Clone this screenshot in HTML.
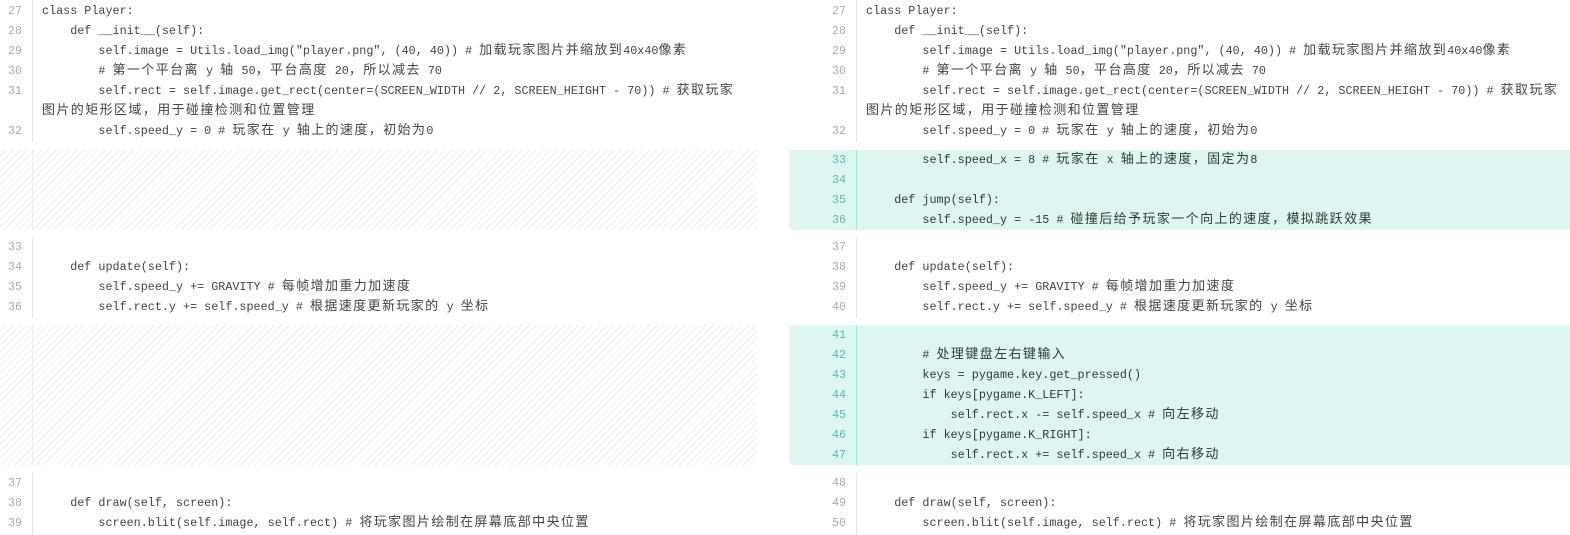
<!DOCTYPE html>
<html><head><meta charset="utf-8"><style>
html,body{margin:0;padding:0;background:#fff;width:1570px;height:535px;overflow:hidden;position:relative}
.r{position:absolute;height:20px;line-height:20px;white-space:pre;font-family:"Liberation Mono","Noto Sans CJK SC",monospace;font-size:11.75px;color:#444}
.n{position:absolute;height:20px;line-height:20px;text-align:right;width:30px;font-family:"Liberation Mono",monospace;font-size:11.67px;color:#aaa}
.g .n{color:#5fb8a2}
.g .r{color:#2d3b37}
.c{font-family:"Noto Sans CJK SC",sans-serif;font-size:13px;letter-spacing:1.4px;line-height:10px;vertical-align:0}
.gut{position:absolute;width:1px;background:#e4e4e4}
.hatch{position:absolute;left:0;width:757px;background:repeating-linear-gradient(135deg,#fff 0 4px,#ececec 4px 5px)}
.blk{position:absolute;left:789px;width:781px;background:#def6f1;border-radius:4px 0 0 4px}
.gg{position:absolute;left:856px;width:1px;background:#a9e5d5}
</style></head><body>
<div class="hatch" style="top:150px;height:80px"></div>
<div class="hatch" style="top:325px;height:140px"></div>
<div class="gut" style="left:32px;top:0;height:142px"></div>
<div class="gut" style="left:32px;top:150px;height:80px;background:#ececec"></div>
<div class="gut" style="left:32px;top:237px;height:81px"></div>
<div class="gut" style="left:32px;top:325px;height:140px;background:#ececec"></div>
<div class="gut" style="left:32px;top:473px;height:62px"></div>
<div class="gut" style="left:856px;top:0;height:142px"></div>
<div class="gut" style="left:856px;top:237px;height:81px"></div>
<div class="gut" style="left:856px;top:473px;height:62px"></div>
<div class="blk" style="top:150px;height:80px"></div>
<div class="blk" style="top:325px;height:140px"></div>
<div class="gg" style="top:150px;height:80px"></div>
<div class="gg" style="top:325px;height:140px"></div>
<div id="c"></div>
<script>
var L=[
[1,'27','class Player:'],[21,'28','    def __init__(self):'],
[41,'29','        self.image = Utils.load_img("player.png", (40, 40)) # 加载玩家图片并缩放到40x40像素'],
[61,'30','        # 第一个平台离 y 轴 50，平台高度 20，所以减去 70'],
[81,'31','        self.rect = self.image.get_rect(center=(SCREEN_WIDTH // 2, SCREEN_HEIGHT - 70)) # 获取玩家'],
[101,'','图片的矩形区域，用于碰撞检测和位置管理'],
[121,'32','        self.speed_y = 0 # 玩家在 y 轴上的速度，初始为0']];
var LB=[[237,'33',''],[257,'34','    def update(self):'],[277,'35','        self.speed_y += GRAVITY # 每帧增加重力加速度'],[297,'36','        self.rect.y += self.speed_y # 根据速度更新玩家的 y 坐标'],
[473,'37',''],[493,'38','    def draw(self, screen):'],[513,'39','        screen.blit(self.image, self.rect) # 将玩家图片绘制在屏幕底部中央位置']];
var R=[[237,'37',''],[257,'38','    def update(self):'],[277,'39','        self.speed_y += GRAVITY # 每帧增加重力加速度'],[297,'40','        self.rect.y += self.speed_y # 根据速度更新玩家的 y 坐标'],
[473,'48',''],[493,'49','    def draw(self, screen):'],[513,'50','        screen.blit(self.image, self.rect) # 将玩家图片绘制在屏幕底部中央位置']];
var G=[[150,'33','        self.speed_x = 8 # 玩家在 x 轴上的速度，固定为8'],[170,'34',''],[190,'35','    def jump(self):'],[210,'36','        self.speed_y = -15 # 碰撞后给予玩家一个向上的速度，模拟跳跃效果'],
[325,'41',''],[345,'42','        # 处理键盘左右键输入'],[365,'43','        keys = pygame.key.get_pressed()'],[385,'44','        if keys[pygame.K_LEFT]:'],[405,'45','            self.rect.x -= self.speed_x # 向左移动'],[425,'46','        if keys[pygame.K_RIGHT]:'],[445,'47','            self.rect.x += self.speed_x # 向右移动']];
function esc(s){return s.replace(/&/g,'&amp;').replace(/</g,'&lt;').replace(/([\u3000-\u9fff\uff00-\uffef]+)/g,'<span class="c">$1</span>');}
var h='';
function add(arr,nx,cx,g){arr.forEach(function(a){h+='<div'+(g?' class="g"':'')+'>';if(a[1])h+='<div class="n" style="left:'+nx+'px;top:'+a[0]+'px">'+a[1]+'</div>';h+='<div class="r" style="left:'+cx+'px;top:'+a[0]+'px">'+esc(a[2])+'</div></div>';});}
add(L,-8,42,0);add(LB,-8,42,0);
add(L,816,866,0);add(R,816,866,0);add(G,816,866,1);
document.getElementById('c').innerHTML=h;
</script>
</body></html>
